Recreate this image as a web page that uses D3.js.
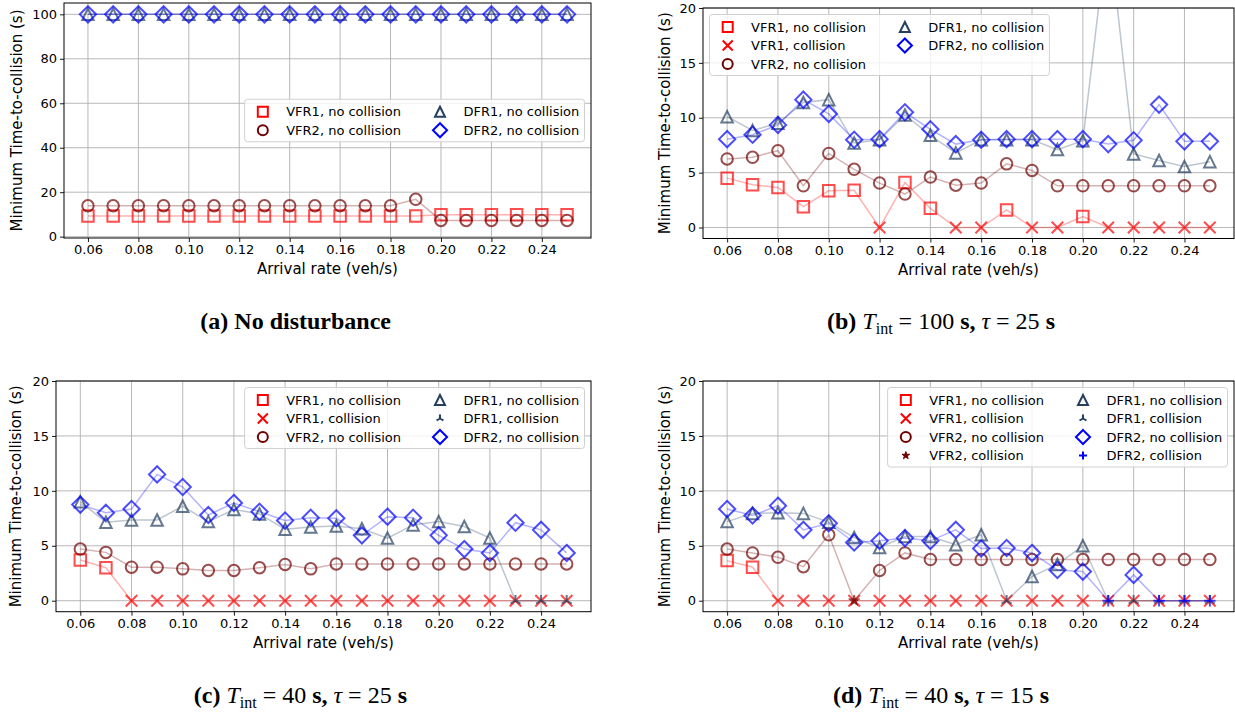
<!DOCTYPE html>
<html><head><meta charset="utf-8">
<script src="https://cdn.jsdelivr.net/npm/d3@7"></script>
<style>body{margin:0;background:#fff} svg{display:block}</style>
</head><body><svg id="c" width="1235" height="713"></svg>
<script>
// ---------------- DATA ----------------
const rates = [0.06,0.07,0.08,0.09,0.10,0.11,0.12,0.13,0.14,0.15,0.16,0.17,0.18,0.19,0.20,0.21,0.22,0.23,0.24,0.25];
const xTicks = [0.06,0.08,0.10,0.12,0.14,0.16,0.18,0.20,0.22,0.24];
const yTicksA = [0,20,40,60,80,100];
const yTicksB = [0,5,10,15,20];
const seriesNames = ["VFR1","VFR2","DFR1","DFR2"];

// (a) No disturbance
const a_VFR1 = [9.3,9.3,9.3,9.3,9.3,9.3,9.3,9.3,9.3,9.3,9.3,9.3,9.3,9.3,9.9,9.9,9.9,9.9,9.9,9.9];
const a_VFR2 = [13.9,13.9,13.9,13.9,13.9,13.9,13.9,13.9,13.9,13.9,13.9,13.9,13.9,16.8,7.3,7.3,7.3,7.3,7.3,7.3];
const a_DFR1 = [100,100,100,100,100,100,100,100,100,100,100,100,100,100,100,100,100,100,100,100];
const a_DFR2 = [100,100,100,100,100,100,100,100,100,100,100,100,100,100,100,100,100,100,100,100];
// (b) Tint = 100 s, tau = 25 s   (0 = collision)
const b_VFR1 = [4.5,3.9,3.65,1.9,3.35,3.4,0,4.1,1.75,0,0,1.6,0,0,1.0,0,0,0,0,0];
const b_VFR2 = [6.25,6.4,7.0,3.8,6.75,5.3,4.05,3.05,4.6,3.85,4.05,5.8,5.2,3.8,3.8,3.8,3.8,3.8,3.8,3.8];
const b_DFR1 = [10.1,8.85,9.5,11.4,11.65,7.7,8.0,10.25,8.4,6.8,8.0,8.0,8.0,7.1,7.9,27.5,6.7,6.1,5.55,6.0];
const b_DFR2 = [8.05,8.45,9.35,11.65,10.35,8.0,8.05,10.5,8.95,7.6,8.0,8.05,8.05,8.05,8.05,7.6,7.95,11.2,7.85,7.85];
// (c) Tint = 40 s, tau = 25 s
const c_VFR1 = [3.7,3.0,0,0,0,0,0,0,0,0,0,0,0,0,0,0,0,0,0,0];
const c_VFR2 = [4.7,4.4,3.05,3.05,2.9,2.75,2.75,3.0,3.3,2.9,3.35,3.35,3.35,3.35,3.35,3.35,3.35,3.35,3.35,3.35];
const c_DFR1 = [9.0,7.15,7.35,7.35,8.6,7.2,8.3,7.9,6.5,6.7,6.8,6.55,5.7,6.9,7.2,6.75,5.7,0,0,0];
const c_DFR2 = [8.75,8.0,8.35,11.5,10.35,7.8,8.9,8.1,7.3,7.55,7.5,5.95,7.65,7.55,5.95,4.7,4.35,7.1,6.45,4.35];
// (d) Tint = 40 s, tau = 15 s
const d_VFR1 = [3.65,3.05,0,0,0,0,0,0,0,0,0,0,0,0,0,0,0,0,0,0];
const d_VFR2 = [4.7,4.35,3.95,3.1,6.0,0,2.75,4.35,3.75,3.75,3.75,3.75,3.75,3.75,3.75,3.75,3.75,3.75,3.75,3.75];
const d_DFR1 = [7.2,7.95,8.0,7.95,7.15,5.75,4.85,5.85,5.85,5.1,6.0,0,2.2,3.3,5.0,0,0,0,0,0];
const d_DFR2 = [8.35,7.75,8.65,6.45,7.05,5.3,5.45,5.7,5.45,6.45,4.75,4.8,4.35,2.8,2.65,0,2.35,0,0,0];

// legend entries (column-major, 2 columns)
const legA = [["VFR1","nc"],["VFR2","nc"],["DFR1","nc"],["DFR2","nc"]];
const legB = [["VFR1","nc"],["VFR1","c"],["VFR2","nc"],["DFR1","nc"],["DFR2","nc"]];
const legC = [["VFR1","nc"],["VFR1","c"],["VFR2","nc"],["DFR1","nc"],["DFR1","c"],["DFR2","nc"]];
const legD = [["VFR1","nc"],["VFR1","c"],["VFR2","nc"],["VFR2","c"],["DFR1","nc"],["DFR1","c"],["DFR2","nc"],["DFR2","c"]];

// ---------------- STYLE ----------------
const style = {
  VFR1:{color:"#ff0000", nc:"square", c:"x"},
  VFR2:{color:"#700000", nc:"circle", c:"star"},
  DFR1:{color:"#243f60", nc:"triangle", c:"tri"},
  DFR2:{color:"#0000ff", nc:"diamond", c:"plus"}
};
const FONT = "'DejaVu Sans', sans-serif";
const MS = 11.5;

function markerPath(type, s){
  const h = s/2;
  switch(type){
    case "square": return `M${-h},${-h}H${h}V${h}H${-h}Z`;
    case "circle": return `M${h},0A${h},${h} 0 1,1 ${-h},0A${h},${h} 0 1,1 ${h},0Z`;
    case "triangle": return `M0,${-h}L${h},${h}L${-h},${h}Z`;
    case "diamond": { const d=h*Math.SQRT2; return `M0,${-d}L${d},0L0,${d}L${-d},0Z`; }
    case "x": return `M${-h},${-h}L${h},${h}M${-h},${h}L${h},${-h}`;
    case "plus": return `M${-h},0H${h}M0,${-h}V${h}`;
    case "tri": return `M0,0V${-h}M0,0L${-h*0.866},${h*0.5}M0,0L${h*0.866},${h*0.5}`;
    case "star": {
      let p=""; for(let i=0;i<10;i++){ const r = i%2? h*0.382 : h; const a = -Math.PI/2 + i*Math.PI/5;
        p += (i?"L":"M") + (r*Math.cos(a)).toFixed(2)+","+(r*Math.sin(a)).toFixed(2);} return p+"Z"; }
  }
}
function drawMarker(g, type, color, x, y, opacity, size){
  const filled = (type==="star");
  g.append("path").attr("d", markerPath(type, size||MS))
   .attr("transform",`translate(${x},${y})`)
   .attr("fill", filled? color : "none")
   .attr("stroke", color)
   .attr("stroke-width", filled? 1 : 2)
   .attr("stroke-linejoin","miter")
   .attr("opacity", opacity);
}

const svg = d3.select("#c");
svg.append("rect").attr("width",1235).attr("height",713).attr("fill","#fff");

function panel(cfg){
  const {L,R,T,B,yDomain,yTicks,data,legend,legendLoc,ylabX,id} = cfg;
  const x = d3.scaleLinear().domain([0.0505,0.2595]).range([L,R]);
  const y = d3.scaleLinear().domain(yDomain).range([B,T]);
  const g = svg.append("g");
  // grid
  g.append("g").selectAll("line").data(xTicks).join("line")
    .attr("x1",d=>x(d)).attr("x2",d=>x(d)).attr("y1",T).attr("y2",B)
    .attr("stroke","#b0b0b0").attr("stroke-width",0.9);
  g.append("g").selectAll("line").data(yTicks).join("line")
    .attr("x1",L).attr("x2",R).attr("y1",d=>y(d)).attr("y2",d=>y(d))
    .attr("stroke","#b0b0b0").attr("stroke-width",0.9);
  // axes
  const xa = g.append("g").attr("transform",`translate(0,${B})`)
    .call(d3.axisBottom(x).tickValues(xTicks).tickFormat(d3.format(".2f")).tickSize(4).tickPadding(3));
  const ya = g.append("g").attr("transform",`translate(${L},0)`)
    .call(d3.axisLeft(y).tickValues(yTicks).tickFormat(d3.format("d")).tickSize(4).tickPadding(3));
  [xa,ya].forEach(a=>{ a.select(".domain").remove();
    a.selectAll("text").attr("font-family",FONT).attr("font-size",13).attr("fill","#000");
    a.selectAll("line").attr("stroke","#000").attr("stroke-width",0.9); });
  // clip
  svg.append("clipPath").attr("id","clip"+id).append("rect")
     .attr("x",L).attr("y",T).attr("width",R-L).attr("height",B-T);
  const pg = g.append("g").attr("clip-path",`url(#clip${id})`);
  seriesNames.forEach((name,si)=>{
    const vals = data[si]; const st = style[name];
    const line = d3.line().x((d,i)=>x(rates[i])).y(d=>y(d));
    pg.append("path").attr("d", line(vals)).attr("fill","none")
      .attr("stroke",st.color).attr("stroke-width",1.5).attr("opacity",0.3);
    vals.forEach((v,i)=>{
      const coll = (v===0);
      drawMarker(pg, coll? st.c : st.nc, st.color, x(rates[i]), y(v), 0.7);
    });
  });
  // frame
  g.append("rect").attr("x",L).attr("y",T).attr("width",R-L).attr("height",B-T)
    .attr("fill","none").attr("stroke","#000").attr("stroke-width",1);
  // axis labels
  g.append("text").attr("x",(L+R)/2).attr("y",B+36).attr("text-anchor","middle")
    .attr("font-family",FONT).attr("font-size",15).text("Arrival rate (veh/s)");
  g.append("text").attr("transform",`translate(${ylabX},${(T+B)/2}) rotate(-90)`)
    .attr("text-anchor","middle").attr("dy","0.35em")
    .attr("font-family",FONT).attr("font-size",15).text("Minimum Time-to-collision (s)");
  // legend
  const fs = 13, rowH = 18.5, pad = 5.2;
  const nRows = Math.ceil(legend.length/2);
  const cols = [legend.slice(0,nRows), legend.slice(nRows)];
  const lg = g.append("g");
  const box = lg.append("rect");
  const labels = [];
  const colW = [];
  cols.forEach((col,ci)=>{
    let w = 0;
    col.forEach((e,ri)=>{
      const t = lg.append("text").attr("font-family",FONT).attr("font-size",fs).attr("fill","#000")
        .text(`${e[0]}, ${e[1]==="nc"?"no collision":"collision"}`);
      w = Math.max(w, t.node().getComputedTextLength());
      labels.push({t,e,ci,ri});
    });
    colW.push(w);
  });
  const colStart = [pad, pad + 2.8*fs + colW[0] + 2*fs];
  const W = colStart[1] + 2.8*fs + colW[1] + pad;
  const H = nRows*rowH + 5.5;
  let bx, by;
  if(legendLoc==="upper left"){ bx = L+6.5; by = T+6.5; }
  else if(legendLoc==="upper right"){ bx = R-6.5-W; by = T+6.5; }
  else { bx = R-6.5-W; by = (T+B)/2 - H/2; }
  box.attr("x",bx).attr("y",by).attr("width",W).attr("height",H).attr("rx",3)
     .attr("fill","#fff").attr("fill-opacity",0.8).attr("stroke","#d0d0d0").attr("stroke-width",1);
  labels.forEach(({t,e,ci,ri})=>{
    const cy = by + 2.75 + rowH*(ri+0.5) + 0.5;
    const mx = bx + colStart[ci] + fs;
    const st = style[e[0]];
    const type = e[1]==="nc"? st.nc : st.c;
    drawMarker(lg, type, st.color, mx, cy, 1, (type==="tri"||type==="star"||type==="plus")? 8 : 10);
    t.attr("x", bx + colStart[ci] + 2.8*fs).attr("y", cy).attr("dy","0.36em");
  });
}

panel({id:"a",L:64,R:591,T:3,B:238,yDomain:[-0.6,105.1],yTicks:yTicksA,ylabX:17,
  data:[a_VFR1,a_VFR2,a_DFR1,a_DFR2],legend:legA,legendLoc:"center right"});
panel({id:"b",L:703,R:1234,T:8,B:238.5,yDomain:[-1,20],yTicks:yTicksB,ylabX:665,
  data:[b_VFR1,b_VFR2,b_DFR1,b_DFR2],legend:legB,legendLoc:"upper left"});
panel({id:"c",L:56,R:591,T:381,B:611.7,yDomain:[-1,20],yTicks:yTicksB,ylabX:16,
  data:[c_VFR1,c_VFR2,c_DFR1,c_DFR2],legend:legC,legendLoc:"upper right"});
panel({id:"d",L:703,R:1234,T:381,B:611.7,yDomain:[-1,20],yTicks:yTicksB,ylabX:665,
  data:[d_VFR1,d_VFR2,d_DFR1,d_DFR2],legend:legD,legendLoc:"upper right"});

// captions
const CF = "'Liberation Serif','Times New Roman',serif";
function caption(parts, anchorX, anchor, y){
  const t = svg.append("text").attr("y",y).attr("font-family",CF).attr("font-size",24).attr("fill","#000");
  parts.forEach(p=>{
    const s = t.append("tspan").text(p.t);
    if(p.b) s.attr("font-weight","bold");
    if(p.i) s.attr("font-style","italic");
    if(p.sub) s.attr("font-size",16).attr("dy",5);
    if(p.up) s.attr("dy",-5);
  });
  t.attr("x",anchorX).attr("text-anchor",anchor);
}
caption([{t:"(a) No disturbance",b:1}], 391, "end", 329);
caption([{t:"(b) ",b:1},{t:"T",i:1},{t:"int",sub:1},{t:" = 100 ",up:1},{t:"s, ",b:1},{t:"τ",i:1},{t:" = 25 "},{t:"s",b:1}], 827, "start", 329);
caption([{t:"(c) ",b:1},{t:"T",i:1},{t:"int",sub:1},{t:" = 40 ",up:1},{t:"s, ",b:1},{t:"τ",i:1},{t:" = 25 "},{t:"s",b:1}], 407, "end", 703);
caption([{t:"(d) ",b:1},{t:"T",i:1},{t:"int",sub:1},{t:" = 40 ",up:1},{t:"s, ",b:1},{t:"τ",i:1},{t:" = 15 "},{t:"s",b:1}], 833, "start", 703);
</script></body></html>
